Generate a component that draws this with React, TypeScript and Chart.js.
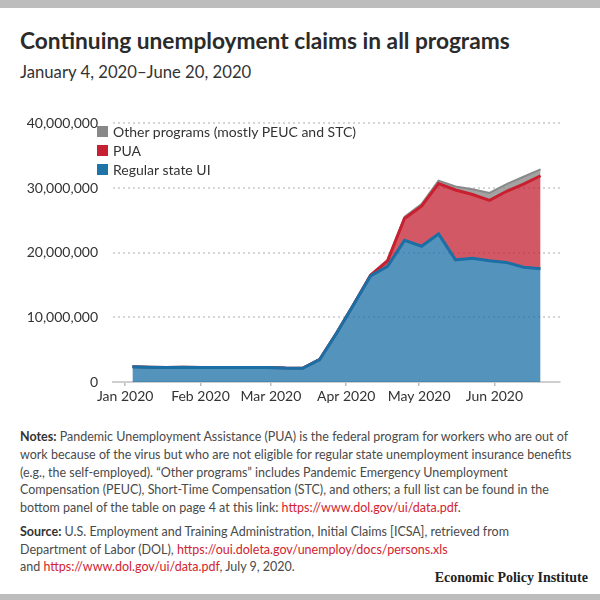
import React, { useEffect, useRef } from 'react';
import { Chart, registerables } from 'chart.js';

Chart.register(...registerables);

// ---- Data ----
const weekEnding = [
  '2020-01-04', '2020-01-11', '2020-01-18', '2020-01-25',
  '2020-02-01', '2020-02-08', '2020-02-15', '2020-02-22', '2020-02-29',
  '2020-03-07', '2020-03-14', '2020-03-21', '2020-03-28',
  '2020-04-04', '2020-04-11', '2020-04-18', '2020-04-25',
  '2020-05-02', '2020-05-09', '2020-05-16', '2020-05-23', '2020-05-30',
  '2020-06-06', '2020-06-13', '2020-06-20',
];

const regularStateUI = [
  2350000, 2300000, 2250000, 2280000,
  2250000, 2250000, 2230000, 2250000, 2230000,
  2150000, 2130000, 3450000, 7550000,
  11950000, 16400000, 17900000, 21900000,
  21000000, 22900000, 18900000, 19150000, 18750000,
  18500000, 17750000, 17500000,
];

const pua = [
  0, 0, 0, 0,
  0, 0, 0, 0, 0,
  0, 0, 0, 0,
  0, 100000, 850000, 3400000,
  6200000, 7800000, 10800000, 9850000, 9350000,
  11000000, 12850000, 14400000,
];

const otherPrograms = [
  30000, 30000, 30000, 30000,
  30000, 30000, 30000, 30000, 30000,
  30000, 30000, 40000, 50000,
  60000, 80000, 120000, 250000,
  330000, 450000, 550000, 800000, 1150000,
  1100000, 1150000, 1000000,
];

const seriesLabels = ['Regular state UI', 'PUA', 'Other programs (mostly PEUC and STC)'];
const yTickValues = [0, 10000000, 20000000, 30000000, 40000000];
const monthTickDates = ['2020-01-01', '2020-02-01', '2020-03-01', '2020-04-01', '2020-05-01', '2020-06-01'];
const monthTickLabels = ['Jan 2020', 'Feb 2020', 'Mar 2020', 'Apr 2020', 'May 2020', 'Jun 2020'];

// ---- Style ----
const BLUE = '#1b6fa4';
const BLUE_FILL = 'rgba(27,111,164,0.75)';
const RED = '#c8202f';
const RED_FILL = 'rgba(196,36,54,0.76)';
const GREY = '#8a8a8a';
const GREY_FILL = 'rgba(140,140,140,0.8)';
const FONT = 'Lato, "Open Sans", sans-serif';

const ORIGIN = Date.UTC(2020, 0, 1);
const toDay = (s: string) => (Date.parse(s) - ORIGIN) / 86400000;

function ChartCanvas() {
  const ref = useRef<HTMLCanvasElement | null>(null);
  useEffect(() => {
    if (!ref.current) return;
    const xs = weekEnding.map(toDay);
    const monthDays = monthTickDates.map(toDay);
    const mk = (vals: number[]) => vals.map((v, i) => ({ x: xs[i], y: v }));
    const chart = new Chart(ref.current, {
      type: 'line',
      data: {
        datasets: [
          {
            label: seriesLabels[0], data: mk(regularStateUI), borderColor: BLUE, backgroundColor: BLUE_FILL,
            fill: 'origin', borderWidth: 3, pointRadius: 0, tension: 0,
          },
          {
            label: seriesLabels[1], data: mk(pua), borderColor: RED, backgroundColor: RED_FILL,
            fill: '-1', borderWidth: 3, pointRadius: 0, tension: 0,
          },
          {
            label: seriesLabels[2], data: mk(otherPrograms), borderColor: GREY, backgroundColor: GREY_FILL,
            fill: '-1', borderWidth: 2, pointRadius: 0, tension: 0,
          },
        ],
      },
      options: {
        responsive: false,
        animation: false,
        layout: { padding: { top: 13, right: 40, left: 0, bottom: 0 } },
        plugins: { legend: { display: false }, tooltip: { enabled: false } },
        scales: {
          x: {
            type: 'linear',
            min: -5,
            max: 179,
            afterBuildTicks: (s: any) => {
              s.ticks = monthDays.map((v) => ({ value: v }));
            },
            afterFit: (s: any) => { s.height = 28; },
            ticks: {
              autoSkip: false,
              maxRotation: 0,
              padding: 2,
              color: '#333',
              font: { family: FONT, size: 14 },
              callback: (v: any) => {
                const i = monthDays.indexOf(Number(v));
                return i >= 0 ? monthTickLabels[i] : '';
              },
            },
            grid: { drawOnChartArea: false, drawTicks: true, tickLength: 4, color: '#bbb', lineWidth: 1.5 },
            border: { display: true, color: '#cfcfcf', width: 2 },
          },
          y: {
            stacked: true,
            min: 0,
            max: 40000000,
            afterBuildTicks: (s: any) => {
              s.ticks = yTickValues.map((v) => ({ value: v }));
            },
            afterFit: (s: any) => { s.width = 113; },
            ticks: {
              padding: 15,
              color: '#333',
              font: { family: FONT, size: 14 },
              callback: (v: any) => Number(v).toLocaleString('en-US'),
            },
            grid: {
              drawTicks: false,
              lineWidth: 2,
              color: (ctx: any) => (ctx.tick && ctx.tick.value === 0 ? 'rgba(0,0,0,0)' : '#d6d6d6'),
            },
            border: { display: false, dash: [2, 3] },
          },
        },
      },
    } as any);
    return () => chart.destroy();
  }, []);
  return (
    <canvas
      ref={ref}
      width={600}
      height={310}
      style={{ position: 'absolute', left: 0, top: 100, width: 600, height: 310 }}
    />
  );
}

const legendItems = [
  { label: seriesLabels[2], color: '#888888' },
  { label: seriesLabels[1], color: '#c62033' },
  { label: seriesLabels[0], color: '#1f74a7' },
];

const linkStyle: React.CSSProperties = { color: '#d2232f' };

export default function App() {
  return (
    <div
      style={{
        position: 'absolute', left: 0, top: 0, width: 600, height: 600, background: '#fff',
        fontFamily: FONT, overflow: 'hidden',
      }}
    >
      <div style={{ position: 'absolute', left: 0, top: 0, width: 600, height: 8, background: '#bdbdbd' }} />
      <div
        style={{
          position: 'absolute', left: 20, top: 26, fontSize: 22.7, lineHeight: '30px', fontWeight: 700,
          color: '#2b2b2b', whiteSpace: 'nowrap',
        }}
      >
        Continuing unemployment claims in all programs
      </div>
      <div
        style={{
          position: 'absolute', left: 20, top: 62, fontSize: 16.7, lineHeight: '20px', color: '#333',
          whiteSpace: 'nowrap',
        }}
      >
        January 4, 2020–June 20, 2020
      </div>
      <ChartCanvas />
      <div style={{ position: 'absolute', left: 97, top: 122 }}>
        {legendItems.map((it) => (
          <div key={it.label} style={{ display: 'flex', alignItems: 'center', height: 19 }}>
            <div style={{ width: 11, height: 11, background: it.color, marginRight: 5 }} />
            <span style={{ fontSize: 14, color: '#333', whiteSpace: 'nowrap' }}>{it.label}</span>
          </div>
        ))}
      </div>
      <div
        style={{
          position: 'absolute', left: 20, top: 428, fontSize: 12.5, lineHeight: '17.8px', color: '#4a4a4a',
          whiteSpace: 'nowrap',
        }}
      >
        <b style={{ color: '#333' }}>Notes:</b> Pandemic Unemployment Assistance (PUA) is the federal program for workers who are out of<br />
        work because of the virus but who are not eligible for regular state unemployment insurance benefits<br />
        (e.g., the self-employed). “Other programs” includes Pandemic Emergency Unemployment<br />
        Compensation (PEUC), Short-Time Compensation (STC), and others; a full list can be found in the<br />
        bottom panel of the table on page 4 at this link: <span style={linkStyle}>https://www.dol.gov/ui/data.pdf</span>.
      </div>
      <div
        style={{
          position: 'absolute', left: 20, top: 523, fontSize: 12.5, lineHeight: '17.5px', color: '#4a4a4a',
          whiteSpace: 'nowrap',
        }}
      >
        <b style={{ color: '#333' }}>Source:</b> U.S. Employment and Training Administration, Initial Claims [ICSA], retrieved from<br />
        Department of Labor (DOL), <span style={linkStyle}>https://oui.doleta.gov/unemploy/docs/persons.xls</span><br />
        and <span style={linkStyle}>https://www.dol.gov/ui/data.pdf</span>, July 9, 2020.
      </div>
      <div
        style={{
          position: 'absolute', right: 12, top: 570, fontSize: 14, lineHeight: '16px', fontWeight: 700,
          fontFamily: '"Liberation Serif", "DejaVu Serif", serif', color: '#222', whiteSpace: 'nowrap',
        }}
      >
        Economic Policy Institute
      </div>
      <div style={{ position: 'absolute', left: 0, top: 594, width: 600, height: 6, background: '#bdbdbd' }} />
    </div>
  );
}
